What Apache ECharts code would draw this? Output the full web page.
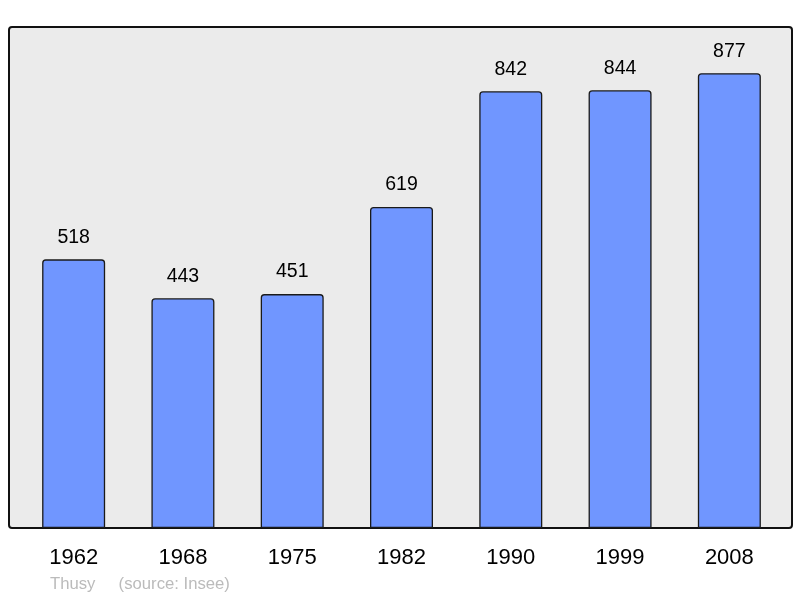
<!DOCTYPE html>
<html>
<head>
<meta charset="utf-8">
<script src="https://cdn.jsdelivr.net/npm/echarts@6/dist/echarts.min.js"></script>
<style>
  html, body { margin: 0; padding: 0; background: #fff; }
  #chart { width: 800px; height: 598px; }
</style>
</head>
<body>
<div id="chart"></div>
<script>
// population by census year
const years = ["1962", "1968", "1975", "1982", "1990", "1999", "2008"];
const population = [518, 443, 451, 619, 842, 844, 877];

const chart = echarts.init(document.getElementById("chart"));

chart.setOption({
  animation: false,
  // frame of the plot
  graphic: [
    {
      type: "rect",
      shape: { x: 9, y: 27, width: 783, height: 501, r: 3 },
      style: { fill: "#ebebeb", stroke: "#111", lineWidth: 2 },
      z: -10
    },
    {
      type: "text",
      left: 50,
      top: 576,
      style: {
        text: "Thusy     (source: Insee)",
        fill: "#bbbbbb",
        font: "16.7px 'Liberation Sans', Arial, sans-serif"
      }
    }
  ],
  grid: { left: 19, right: 16, top: 27, bottom: 70 },
  xAxis: {
    type: "category",
    data: years,
    axisLine: { show: false },
    axisTick: { show: false },
    axisLabel: {
      color: "#000",
      fontSize: 22,
      fontFamily: "Liberation Sans, Arial, sans-serif",
      margin: 19
    }
  },
  yAxis: {
    type: "value",
    min: 0,
    max: 966,
    show: false,
    splitLine: { show: false }
  },
  series: [
    {
      type: "bar",
      data: population,
      barWidth: 63,
      itemStyle: {
        color: "#7096ff",
        borderColor: "#1a1a1a",
        borderWidth: 1.3,
        borderRadius: [3, 3, 0, 0]
      },
      label: {
        show: true,
        position: "top",
        distance: 12,
        color: "#000",
        fontSize: 19.5,
        fontFamily: "Liberation Sans, Arial, sans-serif"
      }
    }
  ]
});
</script>
</body>
</html>
